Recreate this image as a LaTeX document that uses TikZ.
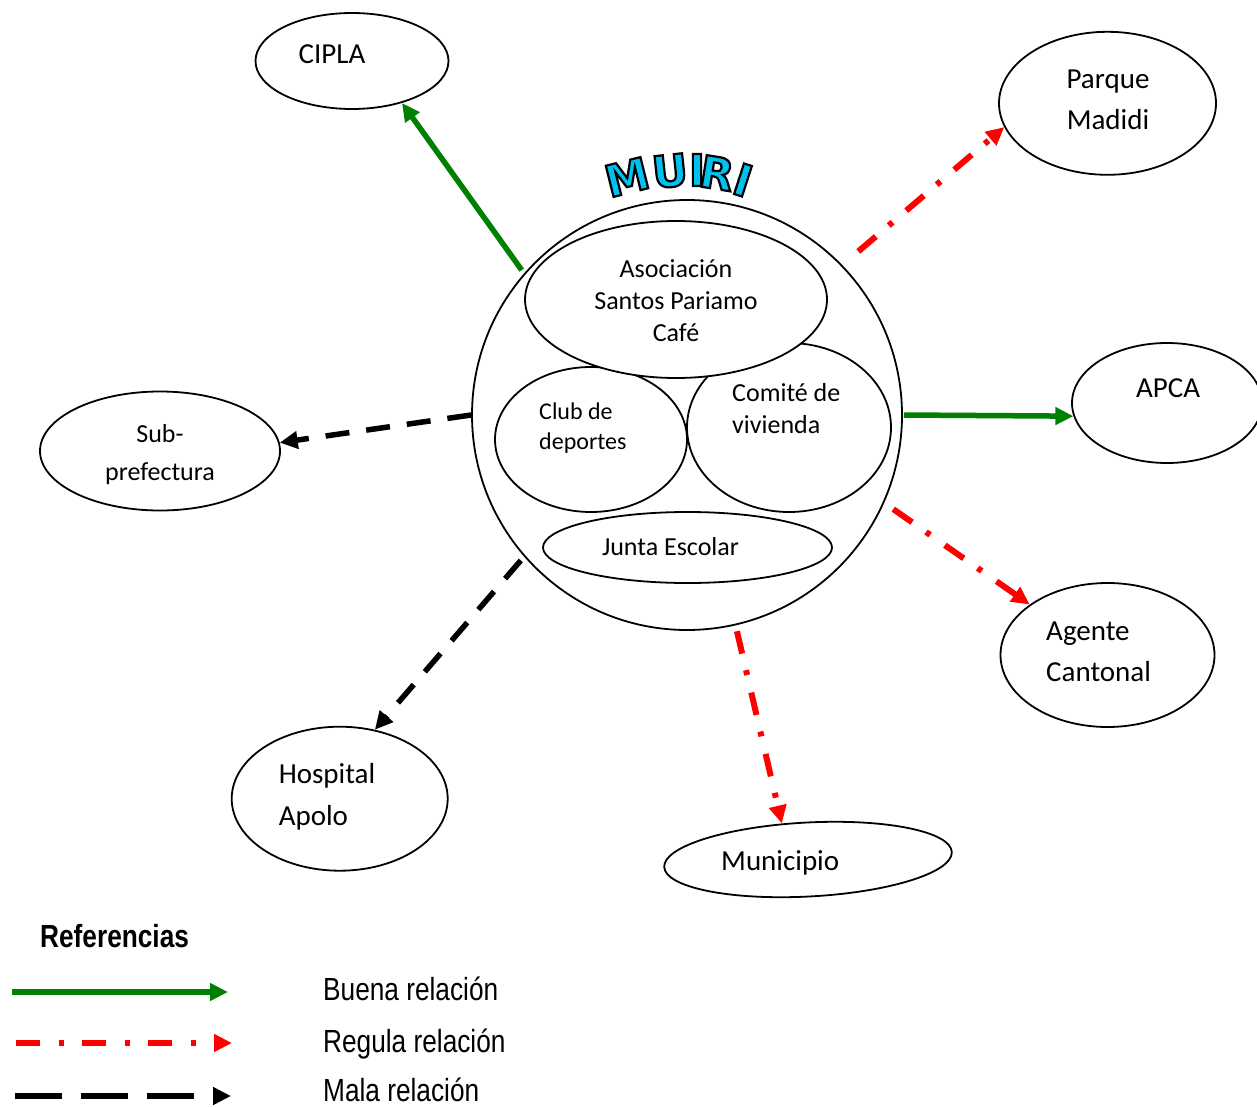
\documentclass[tikz,border=0pt]{standalone}
\usepackage{fontspec}
\setmainfont{Carlito}
\newfontfamily\narrowfont[FakeStretch=0.82]{Liberation Sans}
\newfontfamily\muirifont[FakeBold=5]{DejaVu Sans Bold}
\usetikzlibrary{arrows.meta,shapes.geometric}
\definecolor{goodgreen}{RGB}{0,128,0}
\definecolor{fairred}{RGB}{255,0,0}
\newcommand\outlined[1]{\special{pdf:bcolor [0 0.753 0.941] [0 0 0]}#1\special{pdf:ecolor}}
\tikzset{
  ell/.style={ellipse, draw, line width=1.8pt, fill=white, inner sep=0pt},
  tip/.style={-{Triangle[length=18pt,width=17pt]}},
  good/.style={draw=goodgreen, line width=5.5pt, tip},
  fair/.style={draw=fairred, line width=6pt, dash pattern=on 23pt off 17pt on 5pt off 18pt, tip},
  bad/.style={draw=black, line width=5.5pt, dash pattern=on 24pt off 17pt, tip},
  lgood/.style={draw=goodgreen, line width=6pt, tip},
  lfair/.style={draw=fairred, line width=6pt, dash pattern=on 24pt off 18.5pt on 5pt off 18.5pt, tip},
  lbad/.style={draw=black, line width=6pt, dash pattern=on 47pt off 19pt, tip},
  innertxt/.style={inner sep=0pt, font=\fontsize{26}{32}\selectfont},
  outertxt/.style={inner sep=0pt, font=\fontsize{29}{41}\selectfont},
  legtxt/.style={inner sep=0pt, anchor=base west, font=\narrowfont\fontsize{32}{36}\selectfont},
  letter/.style={inner sep=0pt, font=\muirifont\fontsize{44}{44}\selectfont},
}
\begin{document}
\begin{tikzpicture}[x=1pt,y=-1pt]
\useasboundingbox[fill=white] (0,0) rectangle (1257,1107);

% central circle and its members
\node[circle, draw, line width=1.8pt, fill=white, minimum size=430pt, inner sep=0pt] (muiri) at (687,415) {};
\node[ell, minimum width=204pt, minimum height=169pt] (comite) at (789,427.5) {};
\node[ell, minimum width=192pt, minimum height=145pt] (club) at (591,439.5) {};
\node[ell, minimum width=302pt, minimum height=157pt] (asoc) at (676,299.5) {};
\node[ell, minimum width=289pt, minimum height=71pt] (junta) at (687.5,547.5) {};

\node[innertxt, align=center] (asoctxt) at (676,300.5) {Asociación\\Santos Pariamo\\Café};
\node[innertxt, align=left, anchor=west] (comitetxt) at (732,409) {Comité de\\vivienda};
\node[inner sep=0pt, align=left, anchor=west, font=\fontsize{24}{30}\selectfont] (clubtxt) at (539,428) {Club de\\deportes};
\node[innertxt] (juntatxt) at (670.5,547) {Junta Escolar};

% MUIRI title
\node[letter, rotate=14] (l1) at (627,177) {\outlined{M}};
\node[letter, rotate=6] (l2) at (670,171) {\outlined{U}};
\node[letter, rotate=0] (l3) at (697,170) {\outlined{I}};
\node[letter, rotate=-9] (l4) at (717,173) {\outlined{R}};
\node[letter, rotate=-18] (l5) at (743,180) {\outlined{I}};

% outer actors
\node[ell, minimum width=193pt, minimum height=96pt] (cipla) at (352,61) {};
\node[outertxt] (ciplatxt) at (332,54) {CIPLA};
\node[ell, minimum width=217pt, minimum height=143pt] (parque) at (1107.5,103.3) {};
\node[outertxt, align=center] (parquetxt) at (1108,100) {Parque\\Madidi};
\node[ell, minimum width=190pt, minimum height=120pt] (apca) at (1167,403) {};
\node[outertxt] (apcatxt) at (1168,388) {APCA};
\node[ell, minimum width=214pt, minimum height=144pt] (agente) at (1107.5,655) {};
\node[outertxt, align=left, anchor=west] (agentetxt) at (1046,652) {Agente\\Cantonal};
\node[ell, minimum width=288pt, minimum height=74pt, rotate=3] (muni) at (808,859.5) {};
\node[outertxt, anchor=west] (munitxt) at (721,863) {Municipio};
\node[ell, minimum width=216pt, minimum height=144pt] (hosp) at (339.7,798.7) {};
\node[outertxt, align=left, anchor=west, font=\fontsize{29}{42}\selectfont] (hosptxt) at (278.6,797) {Hospital\\Apolo};
\node[ell, minimum width=240pt, minimum height=119pt] (sub) at (160,451) {};
\node[inner sep=0pt, align=center, font=\fontsize{26}{38}\selectfont] (subtxt) at (160,455) {Sub-\\prefectura};

% relations
\draw[good, shorten <=4pt] (muiri.139.4) -- (cipla.-40.2);
\draw[fair, shorten <=21pt] (muiri.44.8) -- (parque.-167.2);
\draw[good, shorten <=1pt] (muiri.0) -- (apca.-172);
\draw[fair, shorten <=11pt] (muiri.-24.8) -- (agente.147);
\draw[fair, shorten <=6pt] (muiri.-77.5) -- (muni.123.3);
\draw[bad, shorten <=5pt] (muiri.-139.4) -- (hosp.63.5);
\draw[bad] (muiri.180) -- (sub.4.9);

% legend
\node[inner sep=0pt, anchor=base west, font=\narrowfont\bfseries\fontsize{32}{36}\selectfont] (reftitle) at (40,947) {Referencias};
\coordinate (g1) at (12,992);
\coordinate (g2) at (228,992);
\coordinate (r1) at (16,1043);
\coordinate (r2) at (232,1043);
\coordinate (b1) at (15,1096);
\coordinate (b2) at (231,1096);
\draw[lgood] (g1) -- (g2);
\draw[lfair] (r1) -- (r2);
\draw[lbad] (b1) -- (b2);
\node[legtxt] (buena) at (323,1000) {Buena relación};
\node[legtxt] (regula) at (323,1052) {Regula relación};
\node[legtxt] (mala) at (323,1101) {Mala relación};
\end{tikzpicture}
\end{document}
